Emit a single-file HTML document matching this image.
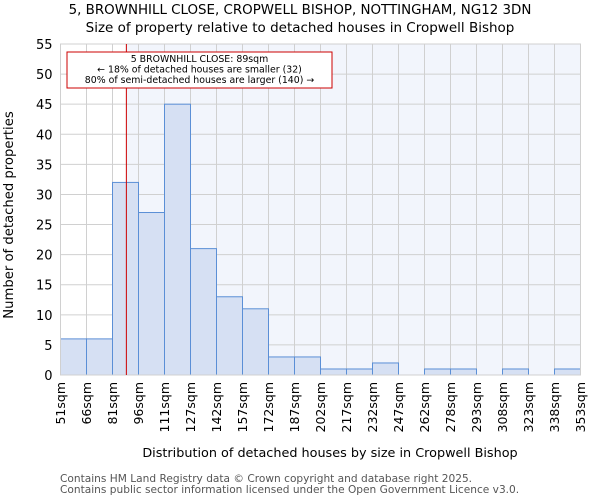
<!DOCTYPE html>
<html><head><meta charset="utf-8"><style>
body{margin:0;background:#fff;font-family:"DejaVu Sans","Liberation Sans",sans-serif}
</style></head><body>
<svg width="600" height="500" xmlns="http://www.w3.org/2000/svg" font-family="DejaVu Sans, Liberation Sans, sans-serif">
<text x="300" y="14" text-anchor="middle" font-size="13.4">5, BROWNHILL CLOSE, CROPWELL BISHOP, NOTTINGHAM, NG12 3DN</text>
<text x="300" y="32" text-anchor="middle" font-size="13.5">Size of property relative to detached houses in Cropwell Bishop</text>
<g id="plot"></g>
<text x="330" y="457" text-anchor="middle" font-size="12.8">Distribution of detached houses by size in Cropwell Bishop</text>
<text x="13" y="215" text-anchor="middle" font-size="13.2" transform="rotate(-90 13 215)">Number of detached properties</text>
<text x="60" y="482" font-size="10.6" fill="#555">Contains HM Land Registry data © Crown copyright and database right 2025.</text>
<text x="60" y="493" font-size="10.6" fill="#555">Contains public sector information licensed under the Open Government Licence v3.0.</text>
</svg>
<script>
const categories=["51sqm","66sqm","81sqm","96sqm","111sqm","127sqm","142sqm","157sqm","172sqm","187sqm","202sqm","217sqm","232sqm","247sqm","262sqm","278sqm","293sqm","308sqm","323sqm","338sqm","353sqm"];
const counts=[6,6,32,27,45,21,13,11,3,3,1,1,2,0,1,1,0,1,0,1];
const yTicks=[0,5,10,15,20,25,30,35,40,45,50,55];
const binStarts=[51,66,81,96,111,127,142,157,172,187,202,217,232,247,262,278,293,308,323,338,353];
const propertySize=89;
const NS="http://www.w3.org/2000/svg";
const g=document.getElementById('plot');
const L=60.5,R=580.5,T=44,B=375,yMax=55;
const n=counts.length,bw=(R-L)/n;
const xs=i=>L+i*bw;
const ys=v=>B-v/yMax*(B-T);
function mk(t,a){const e=document.createElementNS(NS,t);for(const k in a)e.setAttribute(k,a[k]);g.appendChild(e);return e;}
let mi=0;while(mi<binStarts.length-2&&binStarts[mi+1]<=propertySize)mi++;
const mx=xs(mi)+(propertySize-binStarts[mi])/(binStarts[mi+1]-binStarts[mi])*bw;
const bg1=mk('rect',{x:L,y:T,width:mx-L,height:B-T,fill:'#ffffff'});


const bg2=mk('rect',{x:mx,y:T,width:R-mx,height:B-T,fill:'#f2f5fc'});


yTicks.forEach(v=>{
 const l=mk('line',{x1:L,x2:R,y1:ys(v),y2:ys(v),stroke:'#d0d0d0','stroke-width':1});
 
 
 const t=mk('text',{x:L-8,y:ys(v)+5,'text-anchor':'end','font-size':13});
 t.textContent=v;
 
 
});
categories.forEach((c,i)=>{
 const l=mk('line',{x1:xs(i),x2:xs(i),y1:T,y2:B,stroke:'#d0d0d0','stroke-width':1});
 
 
 const t=mk('text',{x:0,y:0,'text-anchor':'end','font-size':12.5,transform:`translate(${xs(i)+4.5},${B+7}) rotate(-90)`});
 t.textContent=c;
 
 
});
counts.forEach((v,i)=>{
 if(v<=0)return;
 const r=mk('rect',{x:xs(i),y:ys(v),width:bw,height:B-ys(v),fill:'#d6e0f3',stroke:'#5b8fd6','stroke-width':1});
 
 
});
const ax=mk('rect',{x:L,y:T,width:R-L,height:B-T,fill:'none',stroke:'#d0d0d0'});


const ml=mk('line',{x1:mx,x2:mx,y1:T,y2:B,stroke:'#cc0000','stroke-width':1});


const box=mk('rect',{x:67,y:52,width:265,height:36,fill:'#fff',stroke:'#cc0000','stroke-width':1});


["5 BROWNHILL CLOSE: 89sqm","← 18% of detached houses are smaller (32)","80% of semi-detached houses are larger (140) →"].forEach((s,k)=>{
 const t=mk('text',{x:199.5,y:62+k*10.5,'text-anchor':'middle','font-size':9.4});
 t.textContent=s;
 
 
});
</script>
</body></html>
